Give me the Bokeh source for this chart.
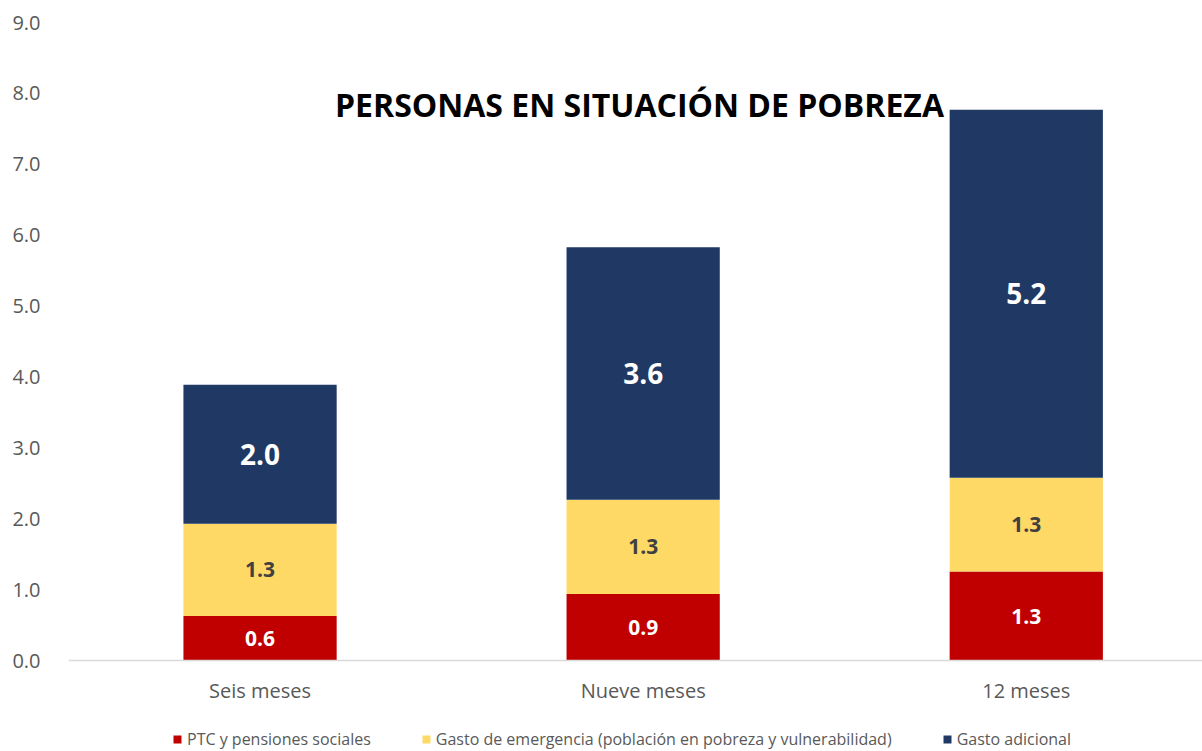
from bokeh.plotting import figure
from bokeh.models import (Range1d, FixedTicker, NumeralTickFormatter, Legend, LegendItem,
                          ColumnDataSource, Label)
from bokeh.core.properties import value
from bokeh.embed import file_html
from bokeh.resources import INLINE

categories = ["Seis meses", "Nueve meses", "12 meses"]
ptc = [0.63, 0.94, 1.26]
emergencia = [1.30, 1.33, 1.32]
adicional = [1.96, 3.56, 5.19]
series_names = ["PTC y pensiones sociales",
                "Gasto de emergencia (población en pobreza y vulnerabilidad)",
                "Gasto adicional"]
colors = ["#C00000", "#FFD966", "#203864"]
y_ticks = [0, 1, 2, 3, 4, 5, 6, 7, 8, 9]
title_text = "PERSONAS EN SITUACIÓN DE POBREZA"

FONT = "Open Sans"
xs = list(range(len(categories)))

# frame spans from 9.0 at the top down to the bottom of the window; the
# category axis sits on y = 0 inside it, the legend below that
p = figure(width=1202, height=751, output_backend="svg", toolbar_location=None,
           x_range=Range1d(-0.5, 2.46), y_range=Range1d(-1.28, 9),
           min_border_left=68, min_border_right=0, min_border_top=22, min_border_bottom=0)
p.outline_line_color = None
p.grid.grid_line_color = None
p.background_fill_color = "white"
p.border_fill_color = "white"

b1 = [0.0] * 3
t1 = [b + v for b, v in zip(b1, ptc)]
t2 = [b + v for b, v in zip(t1, emergencia)]
t3 = [b + v for b, v in zip(t2, adicional)]

r1 = p.vbar(x=xs, bottom=b1, top=t1, width=0.4, fill_color=colors[0], line_color=None)
r2 = p.vbar(x=xs, bottom=t1, top=t2, width=0.4, fill_color=colors[1], line_color=None)
r3 = p.vbar(x=xs, bottom=t2, top=t3, width=0.4, fill_color=colors[2], line_color=None)

def labels(vals, bottoms, color, size):
    src = ColumnDataSource(dict(x=xs, y=[b + v / 2 for b, v in zip(bottoms, vals)],
                                t=["%.1f" % v for v in vals]))
    p.text(x="x", y="y", text="t", source=src, text_align="center", text_baseline="middle",
           text_font=value(FONT), text_font_style="bold", text_font_size=size,
           text_color=color)

labels(ptc, b1, "white", "21px")
labels(emergencia, t1, "#404040", "21px")
labels(adicional, t2, "white", "28px")

p.add_layout(Label(x=639 - 68, y=751 - 104, x_units="screen", y_units="screen",
                   text=title_text, text_align="center", text_baseline="middle",
                   text_font=FONT, text_font_style="bold", text_font_size="32px",
                   text_color="black"))

p.yaxis.ticker = FixedTicker(ticks=y_ticks)
p.yaxis.formatter = NumeralTickFormatter(format="0.0")
p.yaxis.axis_line_color = None
p.yaxis.major_tick_line_color = None
p.yaxis.minor_tick_line_color = None
p.yaxis.major_label_text_font = FONT
p.yaxis.major_label_text_font_size = "20px"
p.yaxis.major_label_text_color = "#595959"
p.yaxis.major_label_standoff = 22

p.xaxis.fixed_location = 0
p.xaxis.ticker = FixedTicker(ticks=xs)
p.xaxis.major_label_overrides = {i: c for i, c in zip(xs, categories)}
p.xaxis.axis_line_color = "#D9D9D9"
p.xaxis.axis_line_width = 1.5
p.xaxis.major_tick_line_color = None
p.xaxis.minor_tick_line_color = None
p.xaxis.major_label_text_font = FONT
p.xaxis.major_label_text_font_size = "20px"
p.xaxis.major_label_text_color = "#595959"
p.xaxis.major_label_standoff = 10

legend = Legend(items=[LegendItem(label=n, renderers=[r]) for n, r in zip(series_names, [r1, r2, r3])],
                orientation="horizontal", location=(104, 1), margin=0, padding=0,
                spacing=50, glyph_width=10, glyph_height=10, label_standoff=5,
                label_text_font=FONT, label_text_font_size="16px", label_text_color="#595959",
                label_height=18,
                border_line_color=None, background_fill_alpha=0)
p.add_layout(legend, "center")

open("out.html", "w").write(file_html(p, INLINE))
